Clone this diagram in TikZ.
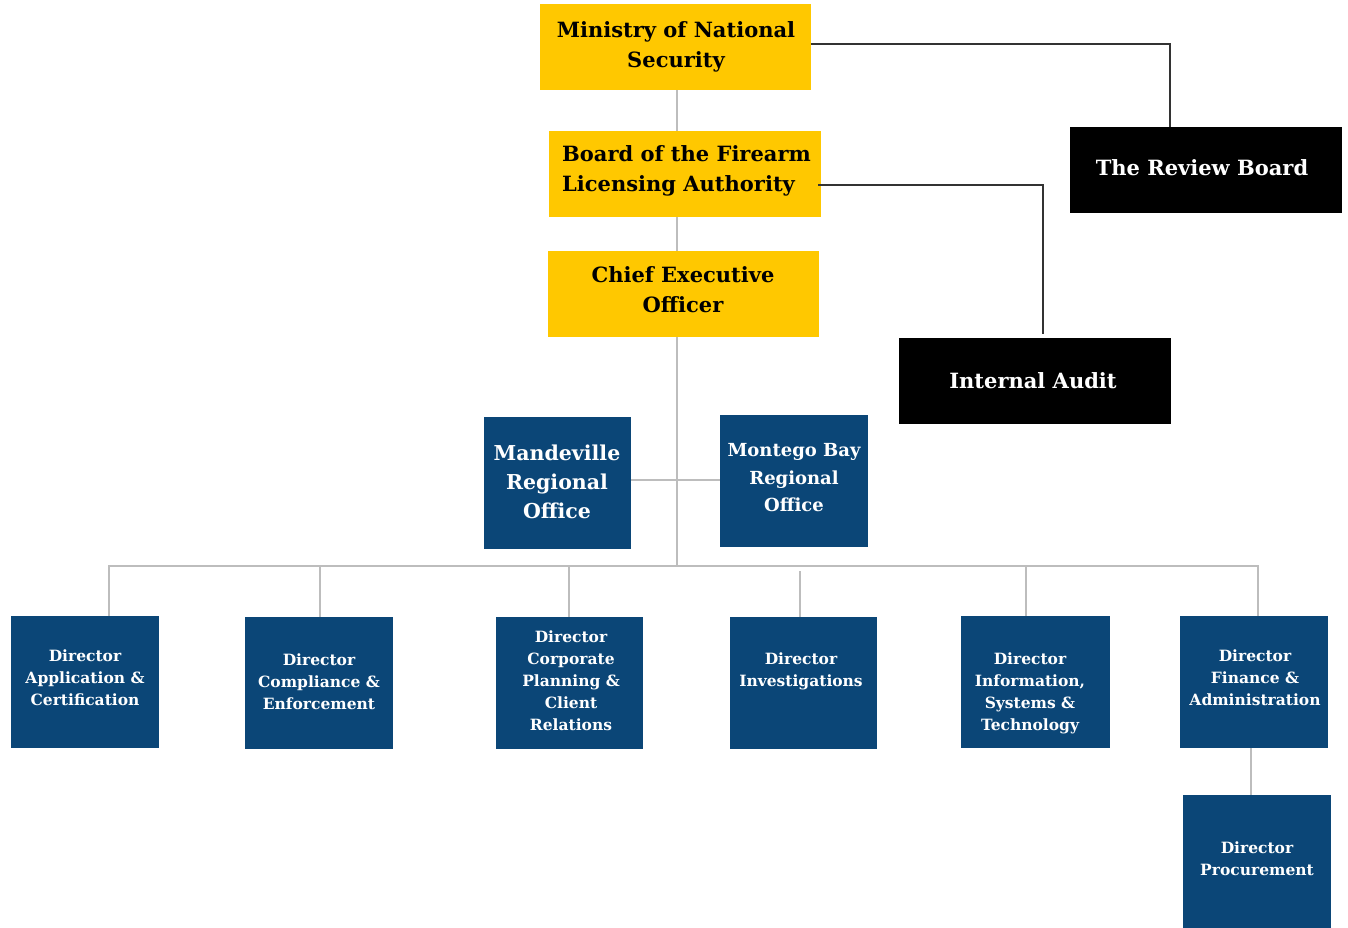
\documentclass[tikz,border=0pt]{standalone}
\usepackage{fontspec}
\setmainfont{DejaVu Serif}
\definecolor{fyellow}{HTML}{FFC800}
\definecolor{fblue}{HTML}{0B4677}
\definecolor{fgray}{HTML}{BDBDBD}
\definecolor{fdark}{HTML}{333333}
\begin{document}
\begin{tikzpicture}[x=1pt,y=-1pt,
  box/.style={draw=none,rectangle,inner sep=0pt},
  ybox/.style={box,fill=fyellow},
  kbox/.style={box,fill=black},
  bbox/.style={box,fill=fblue},
  ytext/.style={text=black,font=\bfseries\fontsize{21}{30}\selectfont,align=center,inner sep=0pt},
  ktext/.style={text=white,font=\bfseries\fontsize{21}{30}\selectfont,align=center,inner sep=0pt},
  rtext/.style={text=white,font=\bfseries\fontsize{20.5}{29}\selectfont,align=center,inner sep=0pt},
  mtext/.style={text=white,font=\bfseries\fontsize{18}{27.5}\selectfont,align=center,inner sep=0pt},
  dtext/.style={text=white,font=\bfseries\fontsize{15.5}{22}\selectfont,align=center,inner sep=0pt},
  gline/.style={draw=fgray,line width=2pt},
  kline/.style={draw=fdark,line width=2pt}]
\useasboundingbox[fill=white] (0,0) rectangle (1348,927);
% boxes
\path[ybox] (540,4) rectangle (811,90);
\node[box,minimum width=271pt,minimum height=86pt] (mns) at (675.5,47) {};
\path[ybox] (549,131) rectangle (821,217);
\node[box,minimum width=272pt,minimum height=86pt] (bfla) at (685,174) {};
\path[ybox] (548,251) rectangle (819,337);
\node[box,minimum width=271pt,minimum height=86pt] (ceo) at (683.5,294) {};
\path[kbox] (1070,127) rectangle (1342,213);
\node[box,minimum width=272pt,minimum height=86pt] (rev) at (1206,170) {};
\path[kbox] (899,338) rectangle (1171,424);
\node[box,minimum width=272pt,minimum height=86pt] (ia) at (1035,381) {};
\path[bbox] (484,417) rectangle (631,549);
\node[box,minimum width=147pt,minimum height=132pt] (man) at (557.5,483) {};
\path[bbox] (720,415) rectangle (868,547);
\node[box,minimum width=148pt,minimum height=132pt] (mob) at (794,481) {};
\path[bbox] (11,616) rectangle (159,748);
\node[box,minimum width=148pt,minimum height=132pt] (app) at (85,682) {};
\path[bbox] (245,617) rectangle (393,749);
\node[box,minimum width=148pt,minimum height=132pt] (comp) at (319,683) {};
\path[bbox] (496,617) rectangle (643,749);
\node[box,minimum width=147pt,minimum height=132pt] (corp) at (569.5,683) {};
\path[bbox] (730,617) rectangle (877,749);
\node[box,minimum width=147pt,minimum height=132pt] (inv) at (803.5,683) {};
\path[bbox] (961,616) rectangle (1110,748);
\node[box,minimum width=149pt,minimum height=132pt] (info) at (1035.5,682) {};
\path[bbox] (1180,616) rectangle (1328,748);
\node[box,minimum width=148pt,minimum height=132pt] (fin) at (1254,682) {};
\path[bbox] (1183,795) rectangle (1331,935);
\node[box,minimum width=148pt,minimum height=140pt] (proc) at (1257,865) {};
% texts
\node[ytext] at (676,47) {Ministry of National\\Security};
\node[ytext,align=left,anchor=west] at (562,171) {Board of the Firearm\\Licensing Authority};
\node[ytext] at (683,289.5) {Chief Executive\\Officer};
\node[ktext] at (1202,168) {The Review Board};
\node[ktext] at (1033,381) {Internal Audit};
\node[rtext] at (557,481.5) {Mandeville\\Regional\\Office};
\node[mtext] at (794,478) {Montego Bay\\Regional\\Office};
\node[dtext] at (85,677.5) {Director\\Application \&\\Certification};
\node[dtext] at (319,682) {Director\\Compliance \&\\Enforcement};
\node[dtext] at (571,681) {Director\\Corporate\\Planning \&\\Client\\Relations};
\node[dtext] at (801,671) {Director\\Investigations};
\node[dtext] at (1030,693) {Director\\Information,\\Systems \&\\Technology};
\node[dtext] at (1255,677.5) {Director\\Finance \&\\Administration};
\node[dtext] at (1257,859) {Director\\Procurement};
% connectors
\coordinate (bus) at (677,566);
\coordinate (busL) at (109,566);
\coordinate (busR) at (1258,566);
\coordinate (invtop) at (800,571);
\draw[gline] (677,90) -- (677,131);
\draw[gline] (677,217) -- (677,251);
\draw[gline] (677,337) -- (bus);
\draw[gline] (man.east |- 0,480) -- (mob.west |- 0,480);
\draw[gline] (busL |- app.north) -- (busL) -- (busR) -- (busR |- fin.north);
\draw[gline] (320,566) -- (320,617);
\draw[gline] (569,566) -- (569,617);
\draw[gline] (invtop) -- (800,617);
\draw[gline] (1026,566) -- (1026,616);
\draw[gline] (1251,748) -- (1251,795);
\draw[kline] (mns.east |- 0,44) -- (1170,44) -- (1170,127);
\draw[kline] (818,185) -- (1043,185) -- (1043,334);
\end{tikzpicture}
\end{document}
